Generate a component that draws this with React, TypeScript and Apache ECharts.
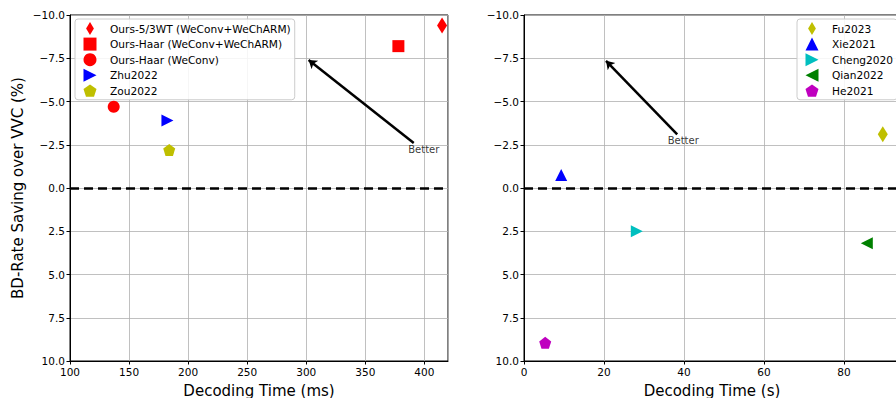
import React, { useEffect, useRef } from 'react';
import * as echarts from 'echarts';

// ---- Data ----
const leftNames = [
  'Ours-5/3WT (WeConv+WeChARM)',
  'Ours-Haar (WeConv+WeChARM)',
  'Ours-Haar (WeConv)',
  'Zhu2022',
  'Zou2022',
];
const leftTimeMs = [415, 378, 137, 182.5, 184];
const leftBdRate = [-9.4, -8.2, -4.7, -3.9, -2.2];

const rightNames = ['Fu2023', 'Xie2021', 'Cheng2020', 'Qian2022', 'He2021'];
const rightTimeS = [89.7, 9.3, 28.2, 85.7, 5.3];
const rightBdRate = [-3.1, -0.75, 2.5, 3.2, 8.95];

const leftArrow = [[391, -2.6], [302, -7.4]];
const leftBetter = [399.5, -2.2];
const rightArrow = [[38.3, -3.1], [20.5, -7.35]];
const rightBetter = [39.8, -2.72];

// ---- Styles ----
const DIAMOND = 'path://M0,-1 L0.6,0 L0,1 L-0.6,0 Z';
const TRI_RIGHT = 'path://M0,0 L1,0.5 L0,1 Z';
const TRI_LEFT = 'path://M1,0 L0,0.5 L1,1 Z';
const PENTAGON = 'path://M0,-1 L0.951,-0.309 L0.588,0.809 L-0.588,0.809 L-0.951,-0.309 Z';

const leftStyles = [
  { color: '#ff0000', symbol: DIAMOND, size: [10, 16] },
  { color: '#ff0000', symbol: 'rect', size: [12, 12] },
  { color: '#ff0000', symbol: 'circle', size: [12, 12] },
  { color: '#0000ff', symbol: TRI_RIGHT, size: [12, 12] },
  { color: '#bfbf00', symbol: PENTAGON, size: [12, 12] },
];
const rightStyles = [
  { color: '#bfbf00', symbol: DIAMOND, size: [10, 16] },
  { color: '#0000ff', symbol: 'triangle', size: [12, 12] },
  { color: '#00bfbf', symbol: TRI_RIGHT, size: [12, 12] },
  { color: '#008000', symbol: TRI_LEFT, size: [12, 12] },
  { color: '#bf00bf', symbol: PENTAGON, size: [12, 12] },
];

const FONT = 'DejaVu Sans';

const yFmt = (v: number) => (v < 0 ? '\u2212' : '') + Math.abs(v).toFixed(1);

function makeXAxis(gridIndex: number, min: number, max: number, interval: number, name: string) {
  return {
    type: 'value',
    gridIndex,
    min,
    max,
    interval,
    name,
    nameLocation: 'middle',
    nameGap: 22,
    nameTextStyle: { fontFamily: FONT, fontSize: 15, color: '#000' },
    axisLine: { show: true, onZero: false, lineStyle: { color: '#000', width: 1 } },
    axisTick: { show: true, length: 3.5, lineStyle: { color: '#000' } },
    axisLabel: { showMaxLabel: false, fontFamily: FONT, fontSize: 10.5, color: '#000', margin: 5 },
    splitLine: { show: true, lineStyle: { color: '#b0b0b0', width: 0.8 } },
  };
}

function makeYAxis(gridIndex: number, name: string) {
  return {
    type: 'value',
    gridIndex,
    min: -10,
    max: 10,
    interval: 2.5,
    inverse: true,
    name,
    nameLocation: 'middle',
    nameGap: 45,
    nameTextStyle: { fontFamily: FONT, fontSize: 15, color: '#000' },
    axisLine: { show: true, onZero: false, lineStyle: { color: '#000', width: 1 } },
    axisTick: { show: true, length: 3.5, lineStyle: { color: '#000' } },
    axisLabel: { formatter: yFmt, fontFamily: FONT, fontSize: 10.5, color: '#000', margin: 5 },
    splitLine: { show: true, lineStyle: { color: '#b0b0b0', width: 0.8 } },
  };
}

const zeroLine = {
  silent: true,
  symbol: 'none',
  label: { show: false },
  lineStyle: { color: '#000', type: [9, 5], width: 2.5 },
  data: [{ yAxis: 0 }],
};

function scatterSeries(names: string[], xs: number[], ys: number[], styles: any[], axisIndex: number) {
  return names.map((n, i) => ({
    type: 'scatter',
    name: n,
    xAxisIndex: axisIndex,
    yAxisIndex: axisIndex,
    symbol: styles[i].symbol,
    symbolSize: styles[i].size,
    itemStyle: { color: styles[i].color, opacity: 1 },
    z: 5,
    data: [[xs[i], ys[i]]],
    ...(i === 0 ? { markLine: zeroLine } : {}),
  }));
}

function arrowSeries(coords: number[][], axisIndex: number) {
  return {
    type: 'lines',
    coordinateSystem: 'cartesian2d',
    xAxisIndex: axisIndex,
    yAxisIndex: axisIndex,
    symbol: ['none', 'arrow'],
    symbolSize: 8,
    lineStyle: { color: '#000', width: 2.5, opacity: 1 },
    silent: true,
    data: [{ coords }],
    z: 4,
  };
}

function betterSeries(pos: number[], axisIndex: number) {
  return {
    type: 'scatter',
    name: 'better-' + axisIndex,
    xAxisIndex: axisIndex,
    yAxisIndex: axisIndex,
    symbolSize: 1,
    itemStyle: { color: 'rgba(0,0,0,0)' },
    label: { show: true, position: 'inside', formatter: 'Better', color: '#000', fontFamily: FONT, fontSize: 10 },
    silent: true,
    data: [pos],
  };
}

const legendBase = {
  orient: 'vertical',
  top: 19,
  itemWidth: 13,
  itemHeight: 13,
  itemGap: 2.6,
  padding: [3, 4, 3, 8.5],
  backgroundColor: 'rgba(255,255,255,0.85)',
  borderColor: '#cccccc',
  borderWidth: 1,
  borderRadius: 3,
  textStyle: { fontFamily: FONT, fontSize: 10.6, color: '#000', padding: [0, 0, 0, 8.5] },
  selectedMode: false,
};

export default function App() {
  const ref = useRef<HTMLDivElement>(null);
  useEffect(() => {
    if (!ref.current) return;
    const chart = echarts.init(ref.current, null, { renderer: 'svg' });
    chart.setOption({
      animation: false,
      backgroundColor: '#ffffff',
      grid: [
        { left: 70, top: 15, width: 378, height: 346, show: true, borderColor: '#000', borderWidth: 1, outerBoundsMode: 'none', containLabel: false },
        { left: 524, top: 15, width: 376, height: 346, show: true, borderColor: '#000', borderWidth: 1, outerBoundsMode: 'none', containLabel: false },
      ],
      xAxis: [
        makeXAxis(0, 100, 420, 50, 'Decoding Time (ms)'),
        makeXAxis(1, 0, 94, 20, 'Decoding Time (s)'),
      ],
      yAxis: [makeYAxis(0, 'BD-Rate Saving over VVC (%)'), makeYAxis(1, '')],
      legend: [
        { ...legendBase, left: 75, data: leftNames },
        { ...legendBase, left: 797, data: rightNames },
      ],
      series: [
        ...scatterSeries(leftNames, leftTimeMs, leftBdRate, leftStyles, 0),
        ...scatterSeries(rightNames, rightTimeS, rightBdRate, rightStyles, 1),
        arrowSeries(leftArrow, 0),
        arrowSeries(rightArrow, 1),
        betterSeries(leftBetter, 0),
        betterSeries(rightBetter, 1),
      ],
    });
    return () => chart.dispose();
  }, []);
  return (
    <div
      ref={ref}
      style={{ position: 'absolute', left: 0, top: 0, width: 896, height: 398 }}
    />
  );
}
